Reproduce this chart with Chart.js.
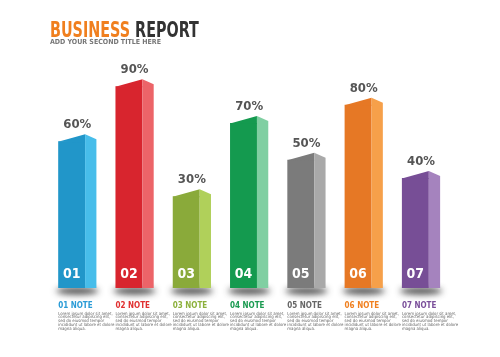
<!DOCTYPE html>
<html>
<head>
<meta charset="utf-8">
<script src="https://cdn.jsdelivr.net/npm/chart.js@4/dist/chart.umd.min.js"></script>
<style>
  html, body { margin: 0; padding: 0; background: #fff; }
  #wrap { width: 500px; height: 357px; position: relative; }
</style>
</head>
<body>
<div id="wrap"><canvas id="report"></canvas></div>
<script>
"use strict";

/* --- DATA --- */

const categories = ['01', '02', '03', '04', '05', '06', '07'];
const values = [60, 90, 30, 70, 50, 80, 40];
const note_titles = ['01 NOTE', '02 NOTE', '03 NOTE', '04 NOTE', '05 NOTE', '06 NOTE', '07 NOTE'];
const note_lines = [
  'Lorem ipsum dolor sit amet,',
  'consectetur adipiscing elit,',
  'sed do eiusmod tempor',
  'incididunt ut labore et dolore',
  'magna aliqua.'
];
const front_colors = ['#2196c9', '#d8252e', '#8aaa3a', '#149a4f', '#7b7b7b', '#e67825', '#774e96'];
const side_colors = ['#47bdea', '#ec6468', '#b0d05a', '#80cfa2', '#a9a9a9', '#f6a04a', '#a583be'];
const note_colors = ['#2a9bd6', '#e03030', '#8cb03c', '#1a9a50', '#666666', '#f08020', '#7a4f9a'];

const font_main = '"DejaVu Sans Condensed", "Roboto", sans-serif';

/* --- 3D BARS + TEXT PLUGIN --- */

const bar_3d = {
  id: 'bar_3d',
  beforeDatasetsDraw(chart) {
    const ctx = chart.ctx;
    const meta = chart.getDatasetMeta(0);
    meta.data.forEach((bar) => {
      const side_w = bar.width * 0.42;
      const full_w = bar.width + side_w;
      const cx = bar.x - bar.width / 2 + full_w / 2;
      // shadow only: shape is drawn off canvas, its shadow lands under the bar
      ctx.save();
      ctx.shadowColor = 'rgba(40,40,40,0.85)';
      ctx.shadowBlur = 6;
      ctx.shadowOffsetY = 1000;
      ctx.fillStyle = '#000';
      ctx.beginPath();
      ctx.ellipse(cx, bar.base + 3 - 1000, full_w / 2 + 2, 3.5, 0, 0, Math.PI * 2);
      ctx.fill();
      ctx.restore();
    });
  },
  afterDatasetsDraw(chart) {
    const ctx = chart.ctx;
    const meta = chart.getDatasetMeta(0);
    meta.data.forEach((bar, i) => {
      const left = bar.x - bar.width / 2;
      const edge = bar.x + bar.width / 2;
      const side_w = bar.width * 0.42;
      const right = edge + side_w;
      const top = bar.y;
      const peak = top - 7;

      ctx.save();
      // front top slope
      ctx.fillStyle = front_colors[i];
      ctx.beginPath();
      ctx.moveTo(left, top + 0.5);
      ctx.lineTo(edge, peak);
      ctx.lineTo(edge, top + 1);
      ctx.closePath();
      ctx.fill();

      // side face
      ctx.fillStyle = side_colors[i];
      ctx.beginPath();
      ctx.moveTo(edge, peak);
      ctx.lineTo(right, top - 2);
      ctx.lineTo(right, bar.base);
      ctx.lineTo(edge, bar.base);
      ctx.closePath();
      ctx.fill();

      // number on front face
      ctx.fillStyle = '#ffffff';
      ctx.font = 'bold 14px ' + font_main;
      ctx.textAlign = 'center';
      ctx.textBaseline = 'alphabetic';
      ctx.fillText(categories[i], bar.x, bar.base - 10);

      // percent label
      ctx.fillStyle = '#555555';
      ctx.font = 'bold 13px ' + font_main;
      ctx.fillText(values[i] + '%', (left + right) / 2, peak - 6);

      // notes
      ctx.textAlign = 'left';
      ctx.fillStyle = note_colors[i];
      ctx.font = 'bold 8px ' + font_main;
      ctx.fillText(note_titles[i], left, 308);
      ctx.fillStyle = '#666666';
      ctx.font = '4.3px ' + font_main;
      note_lines.forEach((line, k) => {
        ctx.fillText(line, left, 314.5 + k * 3.9);
      });
      ctx.restore();
    });
  },
  afterDraw(chart) {
    const ctx = chart.ctx;
    ctx.save();
    ctx.textAlign = 'left';
    ctx.textBaseline = 'alphabetic';
    // condensed title, squeezed sideways
    ctx.translate(50, 37);
    ctx.scale(0.76, 1);
    ctx.font = 'bold 21px ' + font_main;
    ctx.fillStyle = '#f07f1e';
    ctx.fillText('BUSINESS', 0, 0);
    const w = ctx.measureText('BUSINESS ').width;
    ctx.fillStyle = '#333333';
    ctx.fillText('REPORT', w, 0);
    ctx.restore();

    ctx.save();
    ctx.font = 'bold 7px ' + font_main;
    ctx.fillStyle = '#777777';
    ctx.fillText('ADD YOUR SECOND TITLE HERE', 50, 44);
    ctx.restore();
  }
};

/* --- CHART --- */

const report_canvas = document.getElementById('report');

let report_chart = new Chart(report_canvas, {
  type: 'bar',
  data: {
    labels: categories,
    datasets: [{
      label: 'Percent',
      data: values,
      base: -20,
      backgroundColor: front_colors,
      borderWidth: 0,
      barPercentage: 0.47,
      categoryPercentage: 1
    }]
  },
  options: {
    responsive: true,
    maintainAspectRatio: false,
    animation: false,
    layout: {
      padding: { left: 43, right: 56, top: 68, bottom: 69 }
    },
    scales: {
      x: { display: false },
      y: { display: false, min: -20, max: 100 }
    },
    plugins: {
      legend: { display: false },
      tooltip: { enabled: false },
      title: { display: false }
    }
  },
  plugins: [bar_3d]
});
</script>
</body>
</html>
